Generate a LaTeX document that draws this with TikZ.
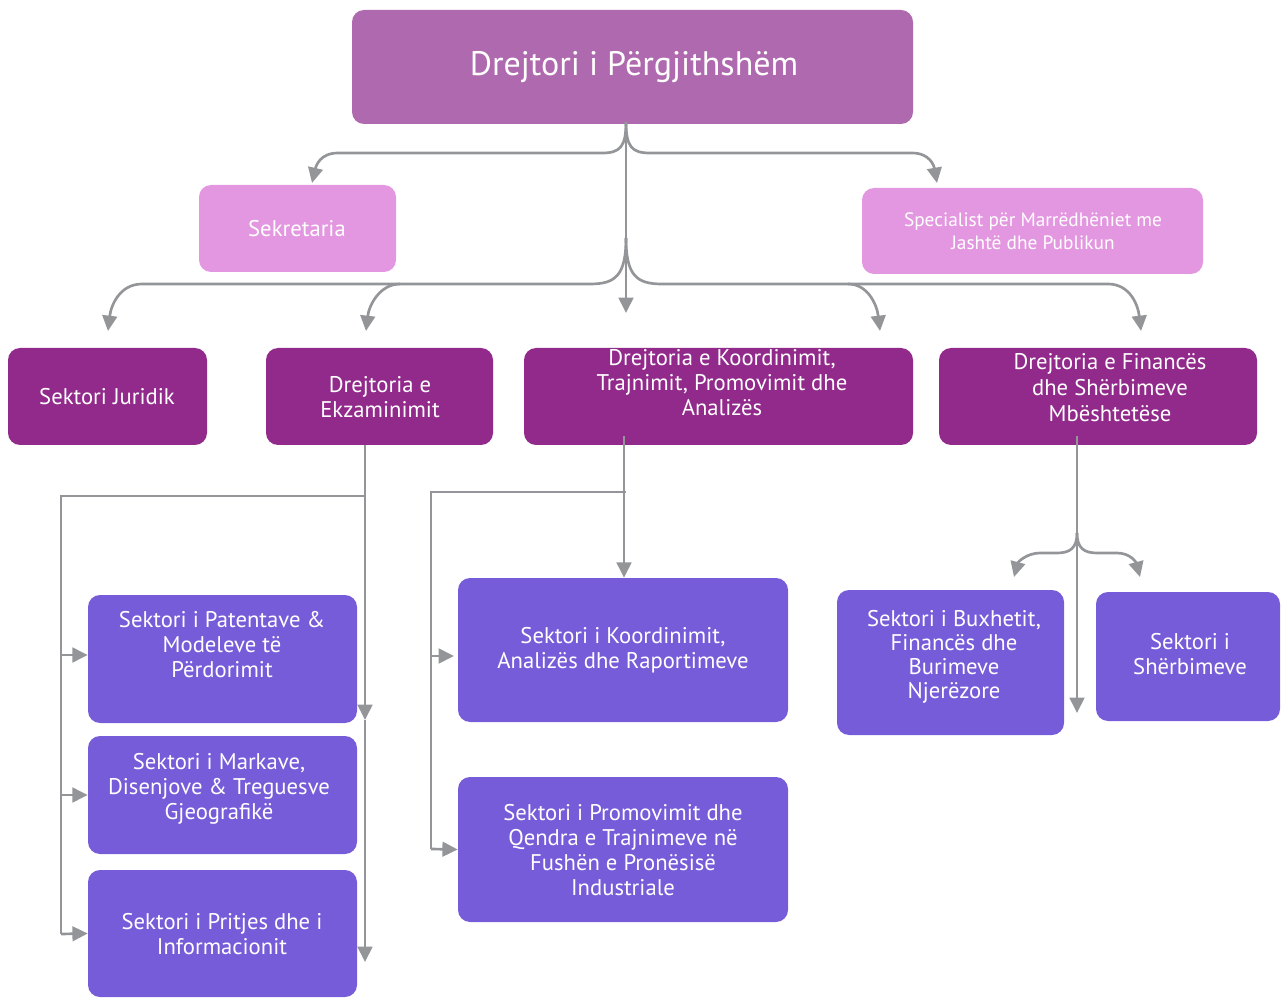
\documentclass[tikz,border=0pt]{standalone}
\usepackage{fontspec}
\setmainfont{PT Sans}
\usetikzlibrary{arrows.meta,fit}
\definecolor{cTop}{HTML}{AF69AE}
\definecolor{cPink}{HTML}{E397E0}
\definecolor{cDir}{HTML}{922A8C}
\definecolor{cSec}{HTML}{765CD9}
\definecolor{cGray}{HTML}{939598}
\begin{document}
\begin{tikzpicture}[x=0.75pt,y=-0.75pt,
  boxst/.style={rounded corners=9pt, inner sep=0pt, draw=none},
  txt/.style={text=white, align=center, inner sep=0pt, font=\fontsize{17}{18.75}\selectfont},
  conn/.style={draw=cGray, line width=2pt, -{Triangle[length=11.5pt,width=11pt]}},
  plain/.style={draw=cGray, line width=2pt}]
\useasboundingbox (0,0) rectangle (1282,998);
% boxes
\node[boxst, fill=cTop, fit={(352,10) (913,124)}] (top) {};
\node[boxst, fill=cPink, fit={(199,185) (396,272)}] (sek) {};
\node[boxst, fill=cPink, fit={(862,188) (1203,274)}] (spe) {};
\node[boxst, fill=cDir, fit={(8,348) (207,445)}] (jur) {};
\node[boxst, fill=cDir, fit={(266,348) (493,445)}] (ekz) {};
\node[boxst, fill=cDir, fit={(524,348) (913,445)}] (koo) {};
\node[boxst, fill=cDir, fit={(939,348) (1257,445)}] (fin) {};
\node[boxst, fill=cSec, fit={(88,595) (357,723)}] (pat) {};
\node[boxst, fill=cSec, fit={(88,736) (357,854)}] (mar) {};
\node[boxst, fill=cSec, fit={(88,870) (357,997)}] (pri) {};
\node[boxst, fill=cSec, fit={(458,578) (788,722)}] (sko) {};
\node[boxst, fill=cSec, fit={(458,777) (788,922)}] (pro) {};
\node[boxst, fill=cSec, fit={(837,590) (1064,735)}] (bux) {};
\node[boxst, fill=cSec, fit={(1096,592) (1280,721)}] (shb) {};
% texts
\node[txt, font=\fontsize{25.5}{30}\selectfont] (topT) at (634,67) {Drejtori i Përgjithshëm};
\node[txt] (sekT) at (297,229) {Sekretaria};
\node[txt, font=\fontsize{14.5}{17.25}\selectfont] (speT) at (1033,231) {Specialist për Marrëdhëniet me\\Jashtë dhe Publikun};
\node[txt] (jurT) at (107,397) {Sektori Juridik};
\node[txt] (ekzT) at (380,397.5) {Drejtoria e\\Ekzaminimit};
\node[txt] (kooT) at (722,383) {Drejtoria e Koordinimit,\\Trajnimit, Promovimit dhe\\Analizës};
\node[txt, font=\fontsize{17}{19.5}\selectfont] (finT) at (1110,388) {Drejtoria e Financës\\dhe Shërbimeve\\Mbështetëse};
\node[txt] (patT) at (222,645) {Sektori i Patentave \&\\Modeleve të\\Përdorimit};
\node[txt] (marT) at (219,789) {Sektori i Markave,\\Disenjove \& Treguesve\\Gjeografikë};
\node[txt] (priT) at (222,934.5) {Sektori i Pritjes dhe i\\Informacionit};
\node[txt] (skoT) at (623,650.5) {Sektori i Koordinimit,\\Analizës dhe Raportimeve};
\node[txt] (proT) at (623,850) {Sektori i Promovimit dhe\\Qendra e Trajnimeve në\\Fushën e Pronësisë\\Industriale};
\node[txt, font=\fontsize{17}{18}\selectfont] (buxT) at (954,657) {Sektori i Buxhetit,\\Financës dhe\\Burimeve\\Njerëzore};
\node[txt] (shbT) at (1190,654.5) {Sektori i\\Shërbimeve};
% junctions and free ends
\coordinate (j1) at (626,122);
\coordinate (j2) at (626,238);
\coordinate (j3) at (1077,533);
\coordinate (ekzB) at (365,445);
\coordinate (ekzH) at (365,496);
\coordinate (ekzM) at (365,720);
\coordinate (ekzE) at (365,962);
\coordinate (kooB) at (624,436);
\coordinate (kooH) at (626,492);
\coordinate (finB) at (1077,436);
% top level
\draw[conn] (j1) .. controls (626,147) and (620,153) .. (602,153) -- (338,153) .. controls (320,153) and (316,166) .. (312,183);
\draw[conn] (j1) .. controls (626,147) and (632,153) .. (650,153) -- (912,153) .. controls (930,153) and (934,166) .. (937,183);
\draw[conn] (j1) -- (626,313);
% second level
\draw[conn] (j2) .. controls (626,276) and (615,284) .. (590,284) -- (142,284) .. controls (120,284) and (111,305) .. (108,331);
\draw[conn] (400,284) .. controls (380,284) and (369,305) .. (366,331);
\draw[conn] (j2) .. controls (626,276) and (637,284) .. (662,284) -- (1108,284) .. controls (1130,284) and (1138,305) .. (1141,331);
\draw[conn] (848,284) .. controls (868,284) and (877,305) .. (880,331);
% Ekzaminimit
\draw[plain] (ekzH) -- (61,496) -- (61,934);
\draw[conn] (ekzB) -- (ekzM);
\draw[conn] (ekzM) -- (ekzE);
\draw[conn] (61,655) -- (pat.west |- 0,655);
\draw[conn] (61,795) -- (mar.west);
\draw[conn] (61,934) -- (pri.west);
% Koordinimit
\draw[conn] (kooB) -- (sko.north -| kooB);
\draw[plain] (kooH) -- (431,492) -- (431,849);
\draw[conn] (431,656) -- (454,656);
\draw[conn] (431,849) -- (pro.west);
% Finances
\draw[conn] (finB) -- (1077,713);
\draw[conn] (j3) .. controls (1077,548) and (1070,553) .. (1057,553) -- (1040,553) .. controls (1027,553) and (1018,562) .. (1014,577);
\draw[conn] (j3) .. controls (1077,548) and (1084,553) .. (1097,553) -- (1117,553) .. controls (1130,553) and (1136,562) .. (1140,577);
\end{tikzpicture}
\end{document}
